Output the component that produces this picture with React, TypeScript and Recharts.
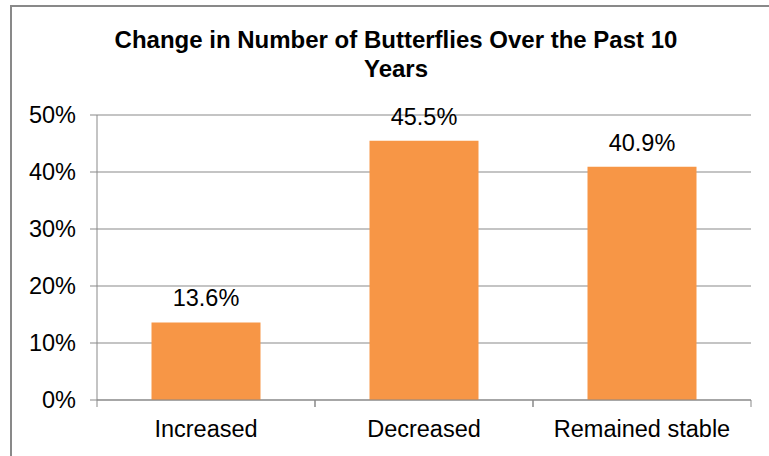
import React from "react";
import { Bar, BarChart, CartesianGrid, LabelList, XAxis, YAxis } from "recharts";

const categories = ["Increased", "Decreased", "Remained stable"];
const percentages = [13.6, 45.5, 40.9];
const yTicks = [0, 10, 20, 30, 40, 50];
const titleLines = ["Change in Number of Butterflies Over the Past 10", "Years"];

const data = categories.map((name, i) => ({ name, value: percentages[i] }));

const FONT = "'Liberation Sans', Arial, sans-serif";
const GRAY = "#898989";
const ORANGE = "#F79646";
const TICK_SIZE = 7;
const TICK_MARGIN = 13;

function CategoryTick(props: any) {
  const { x, y, payload } = props;
  const half = payload?.offset ?? 0;
  const top = y - TICK_MARGIN - TICK_SIZE;
  const bottom = y - TICK_MARGIN;
  return (
    <g>
      <line x1={x - half} x2={x - half} y1={top} y2={bottom} stroke={GRAY} />
      <line x1={x + half} x2={x + half} y1={top} y2={bottom} stroke={GRAY} />
      <text x={x} y={y} dy="0.71em" textAnchor="middle" fill="#000" fontSize={23.5} fontFamily={FONT}>
        {payload.value}
      </text>
    </g>
  );
}

export default function App() {
  return (
    <div style={{ position: "absolute", left: 0, top: 0, width: 769, height: 456, overflow: "hidden", background: "#fff" }}>
      <div
        style={{
          position: "absolute",
          left: 10,
          top: 5,
          width: 800,
          height: 500,
          border: `2px solid ${GRAY}`,
        }}
      />
      <svg width={769} height={110} style={{ position: "absolute", left: 0, top: 0 }}>
        {titleLines.map((line, i) => (
          <text
            key={line}
            x={396}
            y={48 + i * 29}
            textAnchor="middle"
            fontFamily={FONT}
            fontWeight="bold"
            fontSize={24}
            fill="#000"
          >
            {line}
          </text>
        ))}
      </svg>
      <div style={{ position: "absolute", left: 0, top: 0 }}>
        <BarChart
          width={769}
          height={456}
          data={data}
          margin={{ top: 115, right: 18, bottom: 0, left: 0 }}
          barCategoryGap="25%"
        >
          <CartesianGrid vertical={false} stroke={GRAY} />
          <XAxis
            dataKey="name"
            height={56}
            interval={0}
            axisLine={{ stroke: GRAY }}
            tickLine={false}
            tickSize={TICK_SIZE}
            tickMargin={TICK_MARGIN}
            tick={<CategoryTick />}
          />
          <YAxis
            width={97}
            domain={[0, 50]}
            ticks={yTicks}
            tickFormatter={(v: number) => `${v}%`}
            axisLine={{ stroke: GRAY }}
            tickLine={{ stroke: GRAY }}
            tickSize={7}
            tickMargin={14}
            tick={{ fill: "#000", fontSize: 23.5, fontFamily: FONT }}
          />
          <Bar dataKey="value" fill={ORANGE} isAnimationActive={false}>
            <LabelList
              dataKey="value"
              position="top"
              offset={16}
              formatter={(v: any) => `${v}%`}
              fill="#000"
              fontSize={23.5}
              fontFamily={FONT}
            />
          </Bar>
        </BarChart>
      </div>
    </div>
  );
}
